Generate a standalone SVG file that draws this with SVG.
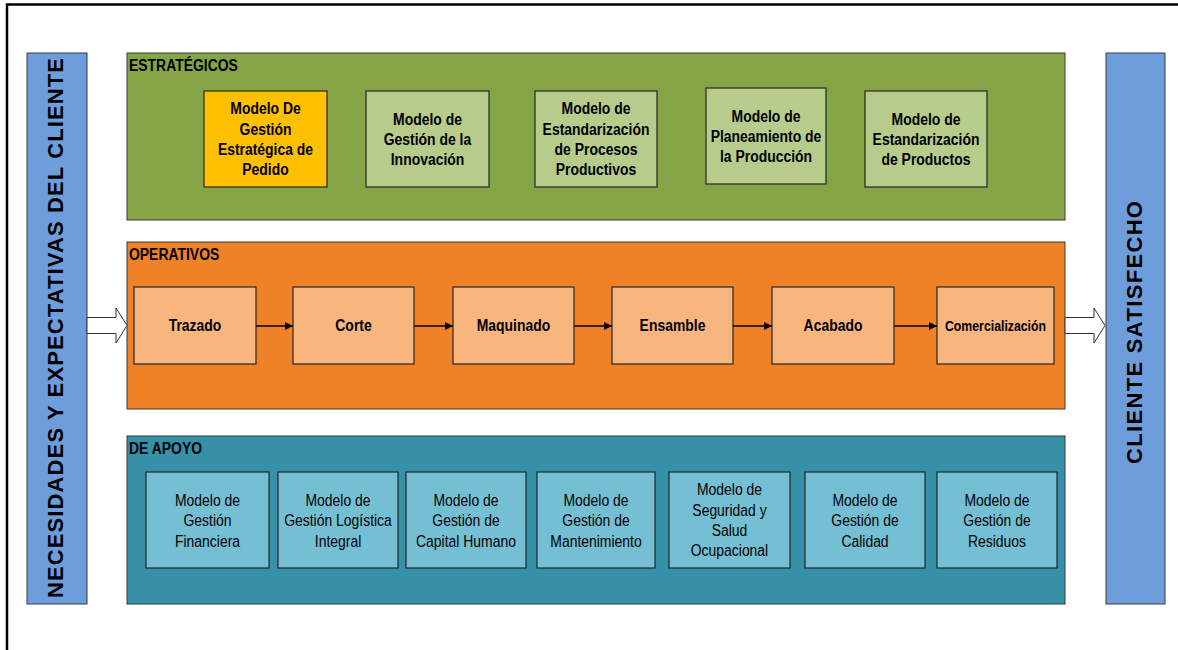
<svg xmlns="http://www.w3.org/2000/svg" width="1178" height="650" viewBox="0 0 1178 650">
  <style>
    .frame { fill: #ffffff; stroke: #000000; stroke-width: 2.5; }
    .bar { fill: #6E9DDC; stroke: #3a3a3a; stroke-width: 1; }
    .panel { stroke: #3a3a3a; stroke-width: 1; }
    .p-est { fill: #85A446; }
    .p-ope { fill: #EF8126; }
    .p-apo { fill: #3590A8; }
    .box { stroke: #262626; stroke-width: 1.2; }
    .b-gold { fill: #FFC000; }
    .b-green { fill: #B7CC8B; }
    .b-orange { fill: #F8B57E; }
    .b-teal { fill: #74BFD3; }
    text { font-family: "Liberation Sans", Arial, sans-serif; fill: #000000; }
    .hdr { font-size: 17px; font-weight: bold; }
    .lbl { font-size: 17px; font-weight: bold; text-anchor: middle; }
    .lbl-sm { font-size: 15px; font-weight: bold; text-anchor: middle; }
    .reg { font-size: 17px; text-anchor: middle; }
    .side { font-size: 22px; font-weight: bold; text-anchor: middle; }
    .link { stroke: #000000; stroke-width: 1.3; fill: none; marker-end: url(#tip); }
    .hollow { fill: #ffffff; stroke: #333333; stroke-width: 1; }
  </style>
  <defs>
    <marker id="tip" viewBox="0 0 10 10" refX="10" refY="5" markerWidth="8" markerHeight="8" markerUnits="userSpaceOnUse" orient="auto">
      <path d="M0,0 L10,5 L0,10 Z" fill="#000000"/>
    </marker>
  </defs>

  <!-- outer frame -->
  <rect class="frame" x="7" y="4.5" width="1200" height="700"/>

  <!-- side bars -->
  <g id="necesidades">
    <rect class="bar" x="27" y="53" width="60" height="551"/>
    <text class="side" transform="translate(63,328) rotate(-90)" textLength="540" lengthAdjust="spacing">NECESIDADES Y EXPECTATIVAS DEL CLIENTE</text>
  </g>
  <g id="cliente-satisfecho">
    <rect class="bar" x="1106" y="53" width="59" height="551"/>
    <text class="side" transform="translate(1142,332.5) rotate(-90)" textLength="263" lengthAdjust="spacing">CLIENTE SATISFECHO</text>
  </g>

  <!-- process panels; labels are set in a narrowed face (x scaled 0.82) -->
  <g id="estrategicos">
    <rect class="panel p-est" x="127" y="53" width="938" height="167"/>
    <text class="hdr" transform="translate(129,0) scale(0.82,1)" x="0" y="71">ESTRATÉGICOS</text>
  </g>
  <g id="operativos">
    <rect class="panel p-ope" x="127" y="242" width="938" height="167"/>
    <text class="hdr" transform="translate(129,0) scale(0.82,1)" x="0" y="260">OPERATIVOS</text>
  </g>
  <g id="apoyo">
    <rect class="panel p-apo" x="127" y="436" width="938" height="168"/>
    <text class="hdr" transform="translate(129,0) scale(0.82,1)" x="0" y="454">DE APOYO</text>
  </g>

  <!-- strategic models -->
  <g id="est-pedido">
    <rect class="box b-gold" x="204" y="91" width="123" height="96"/>
    <g transform="translate(265.5,0) scale(0.82,1)">
      <text class="lbl" x="0" y="114.5">Modelo De</text>
      <text class="lbl" x="0" y="134.8">Gestión</text>
      <text class="lbl" x="0" y="155.1">Estratégica de</text>
      <text class="lbl" x="0" y="175.4">Pedido</text>
    </g>
  </g>
  <g id="est-innovacion">
    <rect class="box b-green" x="366" y="91" width="123" height="96"/>
    <g transform="translate(427.5,0) scale(0.82,1)">
      <text class="lbl" x="0" y="124.7">Modelo de</text>
      <text class="lbl" x="0" y="145">Gestión de la</text>
      <text class="lbl" x="0" y="165.3">Innovación</text>
    </g>
  </g>
  <g id="est-procesos">
    <rect class="box b-green" x="535" y="91" width="122" height="96"/>
    <g transform="translate(596,0) scale(0.82,1)">
      <text class="lbl" x="0" y="114.5">Modelo de</text>
      <text class="lbl" x="0" y="134.8">Estandarización</text>
      <text class="lbl" x="0" y="155.1">de Procesos</text>
      <text class="lbl" x="0" y="175.4">Productivos</text>
    </g>
  </g>
  <g id="est-planeamiento">
    <rect class="box b-green" x="706" y="88" width="120" height="96"/>
    <g transform="translate(766,0) scale(0.82,1)">
      <text class="lbl" x="0" y="121.7">Modelo de</text>
      <text class="lbl" x="0" y="142">Planeamiento de</text>
      <text class="lbl" x="0" y="162.3">la Producción</text>
    </g>
  </g>
  <g id="est-productos">
    <rect class="box b-green" x="865" y="91" width="122" height="96"/>
    <g transform="translate(926,0) scale(0.82,1)">
      <text class="lbl" x="0" y="124.7">Modelo de</text>
      <text class="lbl" x="0" y="145">Estandarización</text>
      <text class="lbl" x="0" y="165.3">de Productos</text>
    </g>
  </g>

  <!-- operational chain -->
  <g id="op-trazado">
    <rect class="box b-orange" x="134" y="287" width="122" height="77"/>
    <text class="lbl" transform="translate(195,0) scale(0.82,1)" x="0" y="331.5">Trazado</text>
  </g>
  <g id="op-corte">
    <rect class="box b-orange" x="293" y="287" width="121" height="77"/>
    <text class="lbl" transform="translate(353.5,0) scale(0.82,1)" x="0" y="331.5">Corte</text>
  </g>
  <g id="op-maquinado">
    <rect class="box b-orange" x="453" y="287" width="121" height="77"/>
    <text class="lbl" transform="translate(513.5,0) scale(0.82,1)" x="0" y="331.5">Maquinado</text>
  </g>
  <g id="op-ensamble">
    <rect class="box b-orange" x="612" y="287" width="121" height="77"/>
    <text class="lbl" transform="translate(672.5,0) scale(0.82,1)" x="0" y="331.5">Ensamble</text>
  </g>
  <g id="op-acabado">
    <rect class="box b-orange" x="772" y="287" width="122" height="77"/>
    <text class="lbl" transform="translate(833,0) scale(0.82,1)" x="0" y="331.5">Acabado</text>
  </g>
  <g id="op-comercializacion">
    <rect class="box b-orange" x="937" y="287" width="117" height="77"/>
    <text class="lbl-sm" transform="translate(995.5,0) scale(0.82,1)" x="0" y="331">Comercialización</text>
  </g>

  <!-- support models -->
  <g id="apo-financiera">
    <rect class="box b-teal" x="146" y="472" width="123" height="96"/>
    <g transform="translate(207.5,0) scale(0.82,1)">
      <text class="reg" x="0" y="506">Modelo de</text>
      <text class="reg" x="0" y="526.3">Gestión</text>
      <text class="reg" x="0" y="546.6">Financiera</text>
    </g>
  </g>
  <g id="apo-logistica">
    <rect class="box b-teal" x="278" y="472" width="120" height="96"/>
    <g transform="translate(338,0) scale(0.82,1)">
      <text class="reg" x="0" y="506">Modelo de</text>
      <text class="reg" x="0" y="526.3">Gestión Logística</text>
      <text class="reg" x="0" y="546.6">Integral</text>
    </g>
  </g>
  <g id="apo-capital">
    <rect class="box b-teal" x="406" y="472" width="120" height="96"/>
    <g transform="translate(466,0) scale(0.82,1)">
      <text class="reg" x="0" y="506">Modelo de</text>
      <text class="reg" x="0" y="526.3">Gestión de</text>
      <text class="reg" x="0" y="546.6">Capital Humano</text>
    </g>
  </g>
  <g id="apo-mantenimiento">
    <rect class="box b-teal" x="537" y="472" width="118" height="96"/>
    <g transform="translate(596,0) scale(0.82,1)">
      <text class="reg" x="0" y="506">Modelo de</text>
      <text class="reg" x="0" y="526.3">Gestión de</text>
      <text class="reg" x="0" y="546.6">Mantenimiento</text>
    </g>
  </g>
  <g id="apo-seguridad">
    <rect class="box b-teal" x="669" y="472" width="121" height="96"/>
    <g transform="translate(729.5,0) scale(0.82,1)">
      <text class="reg" x="0" y="495.5">Modelo de</text>
      <text class="reg" x="0" y="515.8">Seguridad y</text>
      <text class="reg" x="0" y="536.1">Salud</text>
      <text class="reg" x="0" y="556.4">Ocupacional</text>
    </g>
  </g>
  <g id="apo-calidad">
    <rect class="box b-teal" x="805" y="472" width="120" height="96"/>
    <g transform="translate(865,0) scale(0.82,1)">
      <text class="reg" x="0" y="506">Modelo de</text>
      <text class="reg" x="0" y="526.3">Gestión de</text>
      <text class="reg" x="0" y="546.6">Calidad</text>
    </g>
  </g>
  <g id="apo-residuos">
    <rect class="box b-teal" x="937" y="472" width="120" height="96"/>
    <g transform="translate(997,0) scale(0.82,1)">
      <text class="reg" x="0" y="506">Modelo de</text>
      <text class="reg" x="0" y="526.3">Gestión de</text>
      <text class="reg" x="0" y="546.6">Residuos</text>
    </g>
  </g>

  <!-- connectors -->
  <g id="connectors">
    <path class="hollow" d="M87,317.5 H116 V308 L127,325.5 L116,343 V333.5 H87 Z"/>
    <path class="hollow" d="M1065,317.5 H1094 V308 L1105,325.5 L1094,343 V333.5 H1065 Z"/>
    <line class="link" x1="256" y1="326" x2="293" y2="326"/>
    <line class="link" x1="414" y1="326" x2="453" y2="326"/>
    <line class="link" x1="574" y1="326" x2="612" y2="326"/>
    <line class="link" x1="733" y1="326" x2="772" y2="326"/>
    <line class="link" x1="894" y1="326" x2="937" y2="326"/>
  </g>
</svg>
